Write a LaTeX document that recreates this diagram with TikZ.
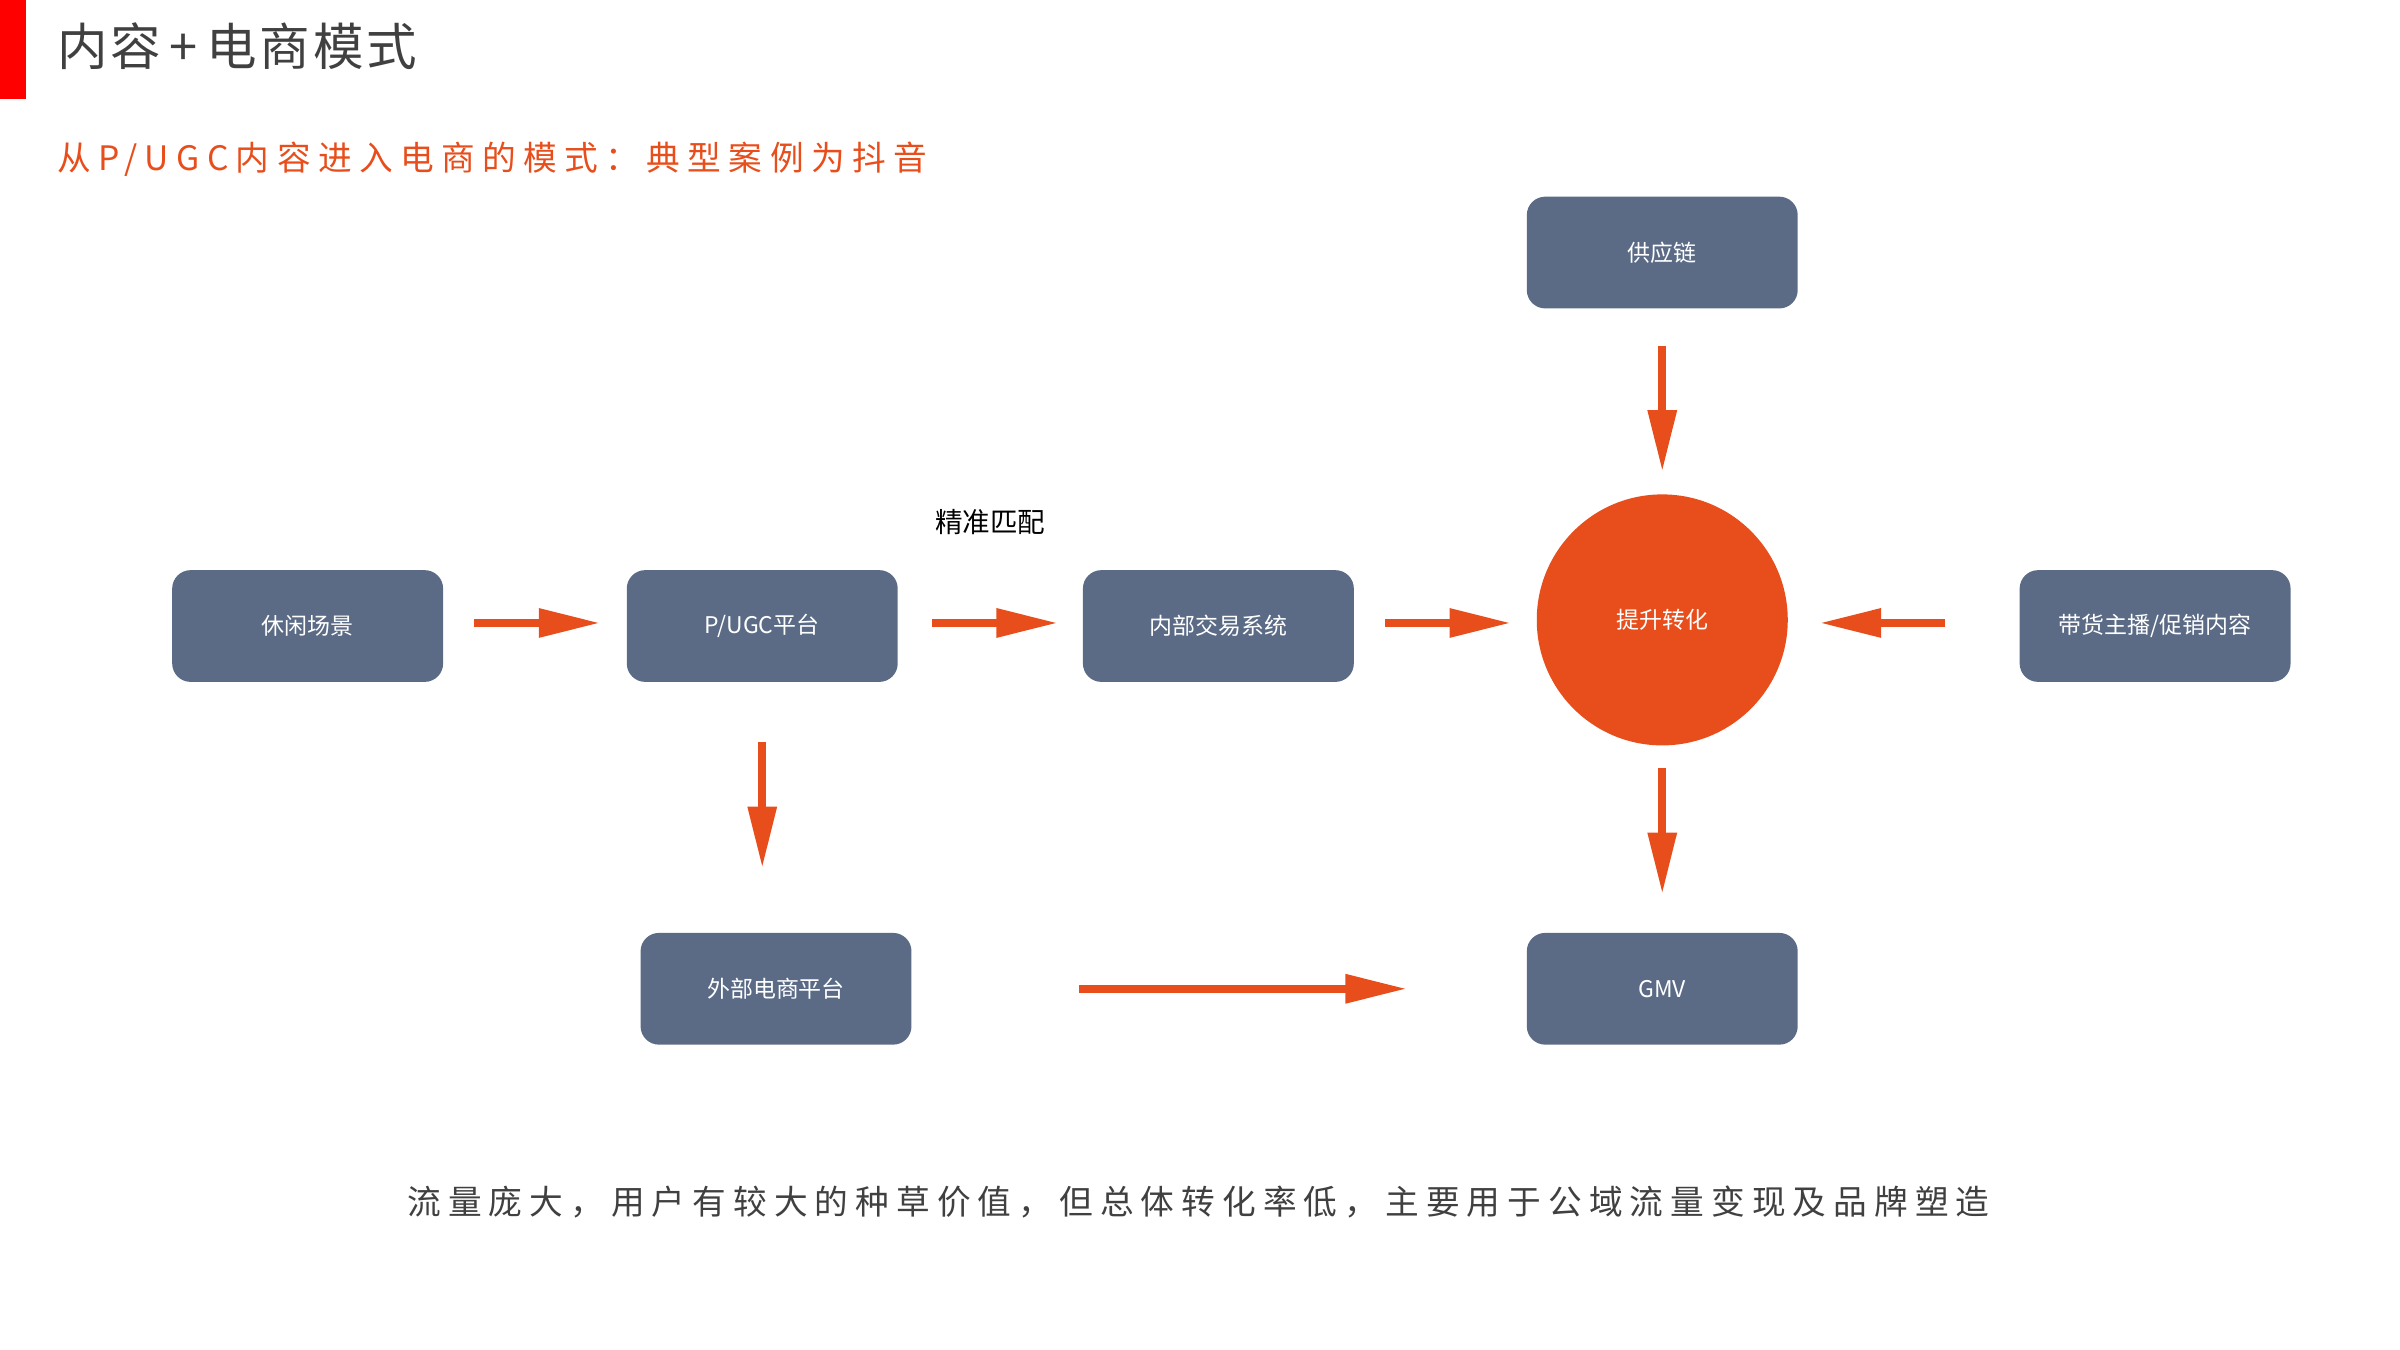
\documentclass[tikz,border=0pt]{standalone}
\usepackage{fontspec}
\setmainfont{Noto Sans CJK SC}
\usetikzlibrary{arrows.meta}
\definecolor{box}{HTML}{5B6B86}
\definecolor{org}{HTML}{E84E1B}
\definecolor{txt}{HTML}{404040}
\begin{document}
\begin{tikzpicture}[x=0.5pt,y=-0.5pt,
  bx/.style={draw=none,fill=box,rounded corners=6pt,minimum width=88.5pt,minimum height=36.5pt,text=white,font=\fontsize{7.5pt}{9pt}\selectfont,inner sep=0pt},
  ar/.style={draw=org,line width=2.5pt,-{Triangle[length=20pt,width=9pt]}}]
\useasboundingbox (0,0) rectangle (1568,882);
\fill[red] (0,0) rectangle (17,65);
\node[anchor=west,text=txt,font=\fontsize{16.5pt}{20pt}\selectfont\addfontfeatures{LetterSpace=6},inner sep=0pt] (t) at (37,30) {内容\,+\,电商模式};
\node[anchor=west,text=org,font=\fontsize{11pt}{13pt}\selectfont\addfontfeatures{LetterSpace=22},inner sep=0pt] (s) at (37,104) {从P/UGC内容进入电商的模式：典型案例为抖音};
\node[bx] (a) at (201,409) {休闲场景};
\node[bx] (b) at (498,409) {P/UGC平台};
\node[bx] (c) at (796,409) {内部交易系统};
\node[bx] (d) at (1408,409) {带货主播/促销内容};
\node[bx] (e) at (1086,165) {供应链};
\node[bx] (f) at (507,646) {外部电商平台};
\node[bx] (g) at (1086,646) {GMV};
\node[circle,fill=org,minimum size=82pt,inner sep=0pt,text=white,font=\fontsize{7.5pt}{9pt}\selectfont] (h) at (1086,405) {提升转化};
\node[font=\fontsize{9pt}{11pt}\selectfont,inner sep=0pt] (m) at (647,341) {精准匹配};
\node[text=txt,font=\fontsize{11pt}{13pt}\selectfont\addfontfeatures{LetterSpace=21},inner sep=0pt] (n) at (783,785) {流量庞大，用户有较大的种草价值，但总体转化率低，主要用于公域流量变现及品牌塑造};
\coordinate (a1) at (310,407); \coordinate (a2) at (392,407);
\coordinate (b1) at (609,407); \coordinate (b2) at (691,407);
\coordinate (c1) at (905,407); \coordinate (c2) at (987,407);
\coordinate (d1) at (1271,407); \coordinate (d2) at (1189,407);
\coordinate (e1) at (1086,226); \coordinate (e2) at (1086,308);
\coordinate (g1) at (1086,502); \coordinate (g2) at (1086,584);
\coordinate (f1) at (498,485); \coordinate (f2) at (498,567);
\coordinate (x1) at (705,646); \coordinate (x2) at (919,646);
\draw[ar] (a1)--(a2); \draw[ar] (b1)--(b2); \draw[ar] (c1)--(c2); \draw[ar] (d1)--(d2);
\draw[ar] (e1)--(e2); \draw[ar] (g1)--(g2); \draw[ar] (f1)--(f2); \draw[ar] (x1)--(x2);
\end{tikzpicture}
\end{document}
